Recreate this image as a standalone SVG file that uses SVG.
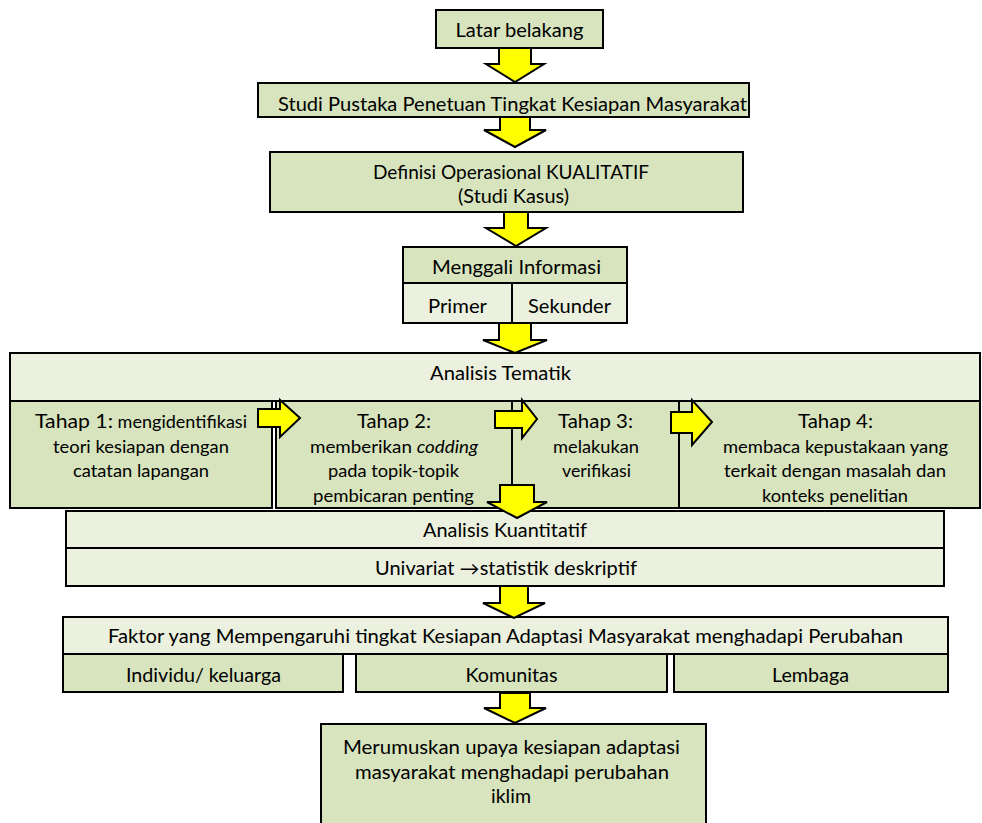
<svg xmlns="http://www.w3.org/2000/svg" width="982" height="823" viewBox="0 0 982 823">
<style>
  .d { fill: #D7E4BD; stroke: #000; stroke-width: 2; }
  .l { fill: #EBF1DE; stroke: #000; stroke-width: 2; }
  .t { font-family: Lato, "Liberation Sans", sans-serif; font-size: 18.5px; fill: #000; text-anchor: middle; }
  .s { font-size: 17px; }
  .b { font-size: 20px; }
  .arr { fill: #FFFF00; stroke: #000; stroke-width: 2; stroke-linejoin: miter; }
</style>
<rect width="982" height="823" fill="#fff"/>

<g id="latar">
  <rect class="d" x="436" y="10" width="167" height="38"/>
  <text class="t" x="519.5" y="37" textLength="128" lengthAdjust="spacingAndGlyphs">Latar belakang</text>
</g>

<g id="studi">
  <rect class="d" x="258" y="83" width="491" height="34"/>
  <text class="t" x="512.5" y="111" textLength="469" lengthAdjust="spacingAndGlyphs">Studi Pustaka Penetuan Tingkat Kesiapan Masyarakat</text>
</g>

<g id="definisi">
  <rect class="d" x="270" y="152" width="473" height="60"/>
  <text class="t" x="511" y="179" textLength="276" lengthAdjust="spacingAndGlyphs">Definisi Operasional KUALITATIF</text>
  <text class="t" x="513.5" y="203" textLength="111" lengthAdjust="spacingAndGlyphs">(Studi Kasus)</text>
</g>

<g id="menggali">
  <rect class="d" x="403" y="247" width="224" height="36"/>
  <text class="t" x="516.5" y="274" textLength="169" lengthAdjust="spacingAndGlyphs">Menggali Informasi</text>
  <rect class="l" x="403" y="283" width="109" height="40"/>
  <rect class="l" x="512" y="283" width="115" height="40"/>
  <text class="t" x="457.5" y="313" textLength="59" lengthAdjust="spacingAndGlyphs">Primer</text>
  <text class="t" x="569.5" y="313" textLength="83" lengthAdjust="spacingAndGlyphs">Sekunder</text>
</g>

<g id="tematik">
  <rect class="l" x="10" y="353" width="970" height="48"/>
  <text class="t" x="500.5" y="380" textLength="141" lengthAdjust="spacingAndGlyphs">Analisis Tematik</text>
</g>

<g id="tahap1">
  <rect class="d" x="10" y="401" width="262" height="107"/>
  <text class="t" x="141" y="428" textLength="212" lengthAdjust="spacingAndGlyphs"><tspan class="b">Tahap 1:</tspan><tspan class="s"> mengidentifikasi</tspan></text>
  <text class="t s" x="141" y="453" textLength="176" lengthAdjust="spacingAndGlyphs">teori kesiapan dengan</text>
  <text class="t s" x="141" y="477" textLength="136" lengthAdjust="spacingAndGlyphs">catatan lapangan</text>
</g>

<g id="tahap2">
  <rect class="d" x="276" y="401" width="236" height="107"/>
  <text class="t b" x="394" y="428" textLength="74" lengthAdjust="spacingAndGlyphs">Tahap 2:</text>
  <text class="t s" x="394" y="453" textLength="168" lengthAdjust="spacingAndGlyphs">memberikan <tspan font-style="italic">codding</tspan></text>
  <text class="t s" x="393.5" y="477" textLength="131" lengthAdjust="spacingAndGlyphs">pada topik-topik</text>
  <text class="t s" x="393.5" y="502" textLength="161" lengthAdjust="spacingAndGlyphs">pembicaran penting</text>
</g>

<g id="tahap3">
  <rect class="d" x="512" y="401" width="167" height="107"/>
  <text class="t b" x="595.5" y="428" textLength="75" lengthAdjust="spacingAndGlyphs">Tahap 3:</text>
  <text class="t s" x="596" y="453" textLength="86" lengthAdjust="spacingAndGlyphs">melakukan</text>
  <text class="t s" x="596.5" y="477" textLength="69" lengthAdjust="spacingAndGlyphs">verifikasi</text>
</g>

<g id="tahap4">
  <rect class="d" x="679" y="401" width="301" height="107"/>
  <text class="t b" x="835.5" y="428" textLength="75" lengthAdjust="spacingAndGlyphs">Tahap 4:</text>
  <text class="t s" x="835.5" y="453" textLength="225" lengthAdjust="spacingAndGlyphs">membaca kepustakaan yang</text>
  <text class="t s" x="835" y="477" textLength="222" lengthAdjust="spacingAndGlyphs">terkait dengan masalah dan</text>
  <text class="t s" x="835" y="502" textLength="146" lengthAdjust="spacingAndGlyphs">konteks penelitian</text>
</g>

<g id="kuantitatif">
  <rect class="l" x="66" y="511" width="878" height="37"/>
  <rect class="l" x="66" y="548" width="878" height="38"/>
  <text class="t" x="505" y="537" textLength="164" lengthAdjust="spacingAndGlyphs">Analisis Kuantitatif</text>
  <text class="t" x="506" y="575" textLength="262" lengthAdjust="spacingAndGlyphs">Univariat →statistik deskriptif</text>
</g>

<g id="faktor">
  <rect class="l" x="63" y="617" width="885" height="37"/>
  <text class="t" x="505.5" y="643" textLength="795" lengthAdjust="spacingAndGlyphs">Faktor yang Mempengaruhi tingkat Kesiapan Adaptasi Masyarakat menghadapi Perubahan</text>
</g>

<g id="individu">
  <rect class="d" x="63" y="654" width="280" height="38"/>
  <text class="t" x="203.5" y="682" textLength="155" lengthAdjust="spacingAndGlyphs">Individu/ keluarga</text>
</g>

<g id="komunitas">
  <rect class="d" x="356" y="654" width="311" height="38"/>
  <text class="t" x="511.5" y="682" textLength="92" lengthAdjust="spacingAndGlyphs">Komunitas</text>
</g>

<g id="lembaga">
  <rect class="d" x="674" y="654" width="274" height="38"/>
  <text class="t" x="810.5" y="682" textLength="77" lengthAdjust="spacingAndGlyphs">Lembaga</text>
</g>

<g id="merumuskan">
  <rect class="d" x="321" y="724" width="385" height="110"/>
  <text class="t" x="511.5" y="754" textLength="337" lengthAdjust="spacingAndGlyphs">Merumuskan upaya kesiapan adaptasi</text>
  <text class="t" x="512" y="779" textLength="314" lengthAdjust="spacingAndGlyphs">masyarakat menghadapi perubahan</text>
  <text class="t" x="511" y="803" textLength="40" lengthAdjust="spacingAndGlyphs">iklim</text>
</g>

<g id="connectors">
  <polygon class="arr" points="499,48 531,48 531,64 544,64 515,82 486,64 499,64"/>
  <polygon class="arr" points="500,117 530,117 530,130 546,130 515,147 484,130 500,130"/>
  <polygon class="arr" points="504,212 528,212 528,228 546,228 516,246 486,228 504,228"/>
  <polygon class="arr" points="499,323 531,323 531,340 547,340 515,353 483,340 499,340"/>
  <polygon class="arr" points="258,409 280,409 280,400 300,418 280,437 280,427 258,427"/>
  <polygon class="arr" points="495,411 522,411 522,400 537,419 522,438 522,428 495,428"/>
  <polygon class="arr" points="671,412 692,412 692,400 712,422 692,445 692,433 671,433"/>
  <polygon class="arr" points="500,485 534,485 534,502 547,502 517,518 487,502 500,502"/>
  <polygon class="arr" points="500,586 528,586 528,603 545,603 514,618 483,603 500,603"/>
  <polygon class="arr" points="500,693 530,693 530,708 546,708 515,723 484,708 500,708"/>
</g>
</svg>
